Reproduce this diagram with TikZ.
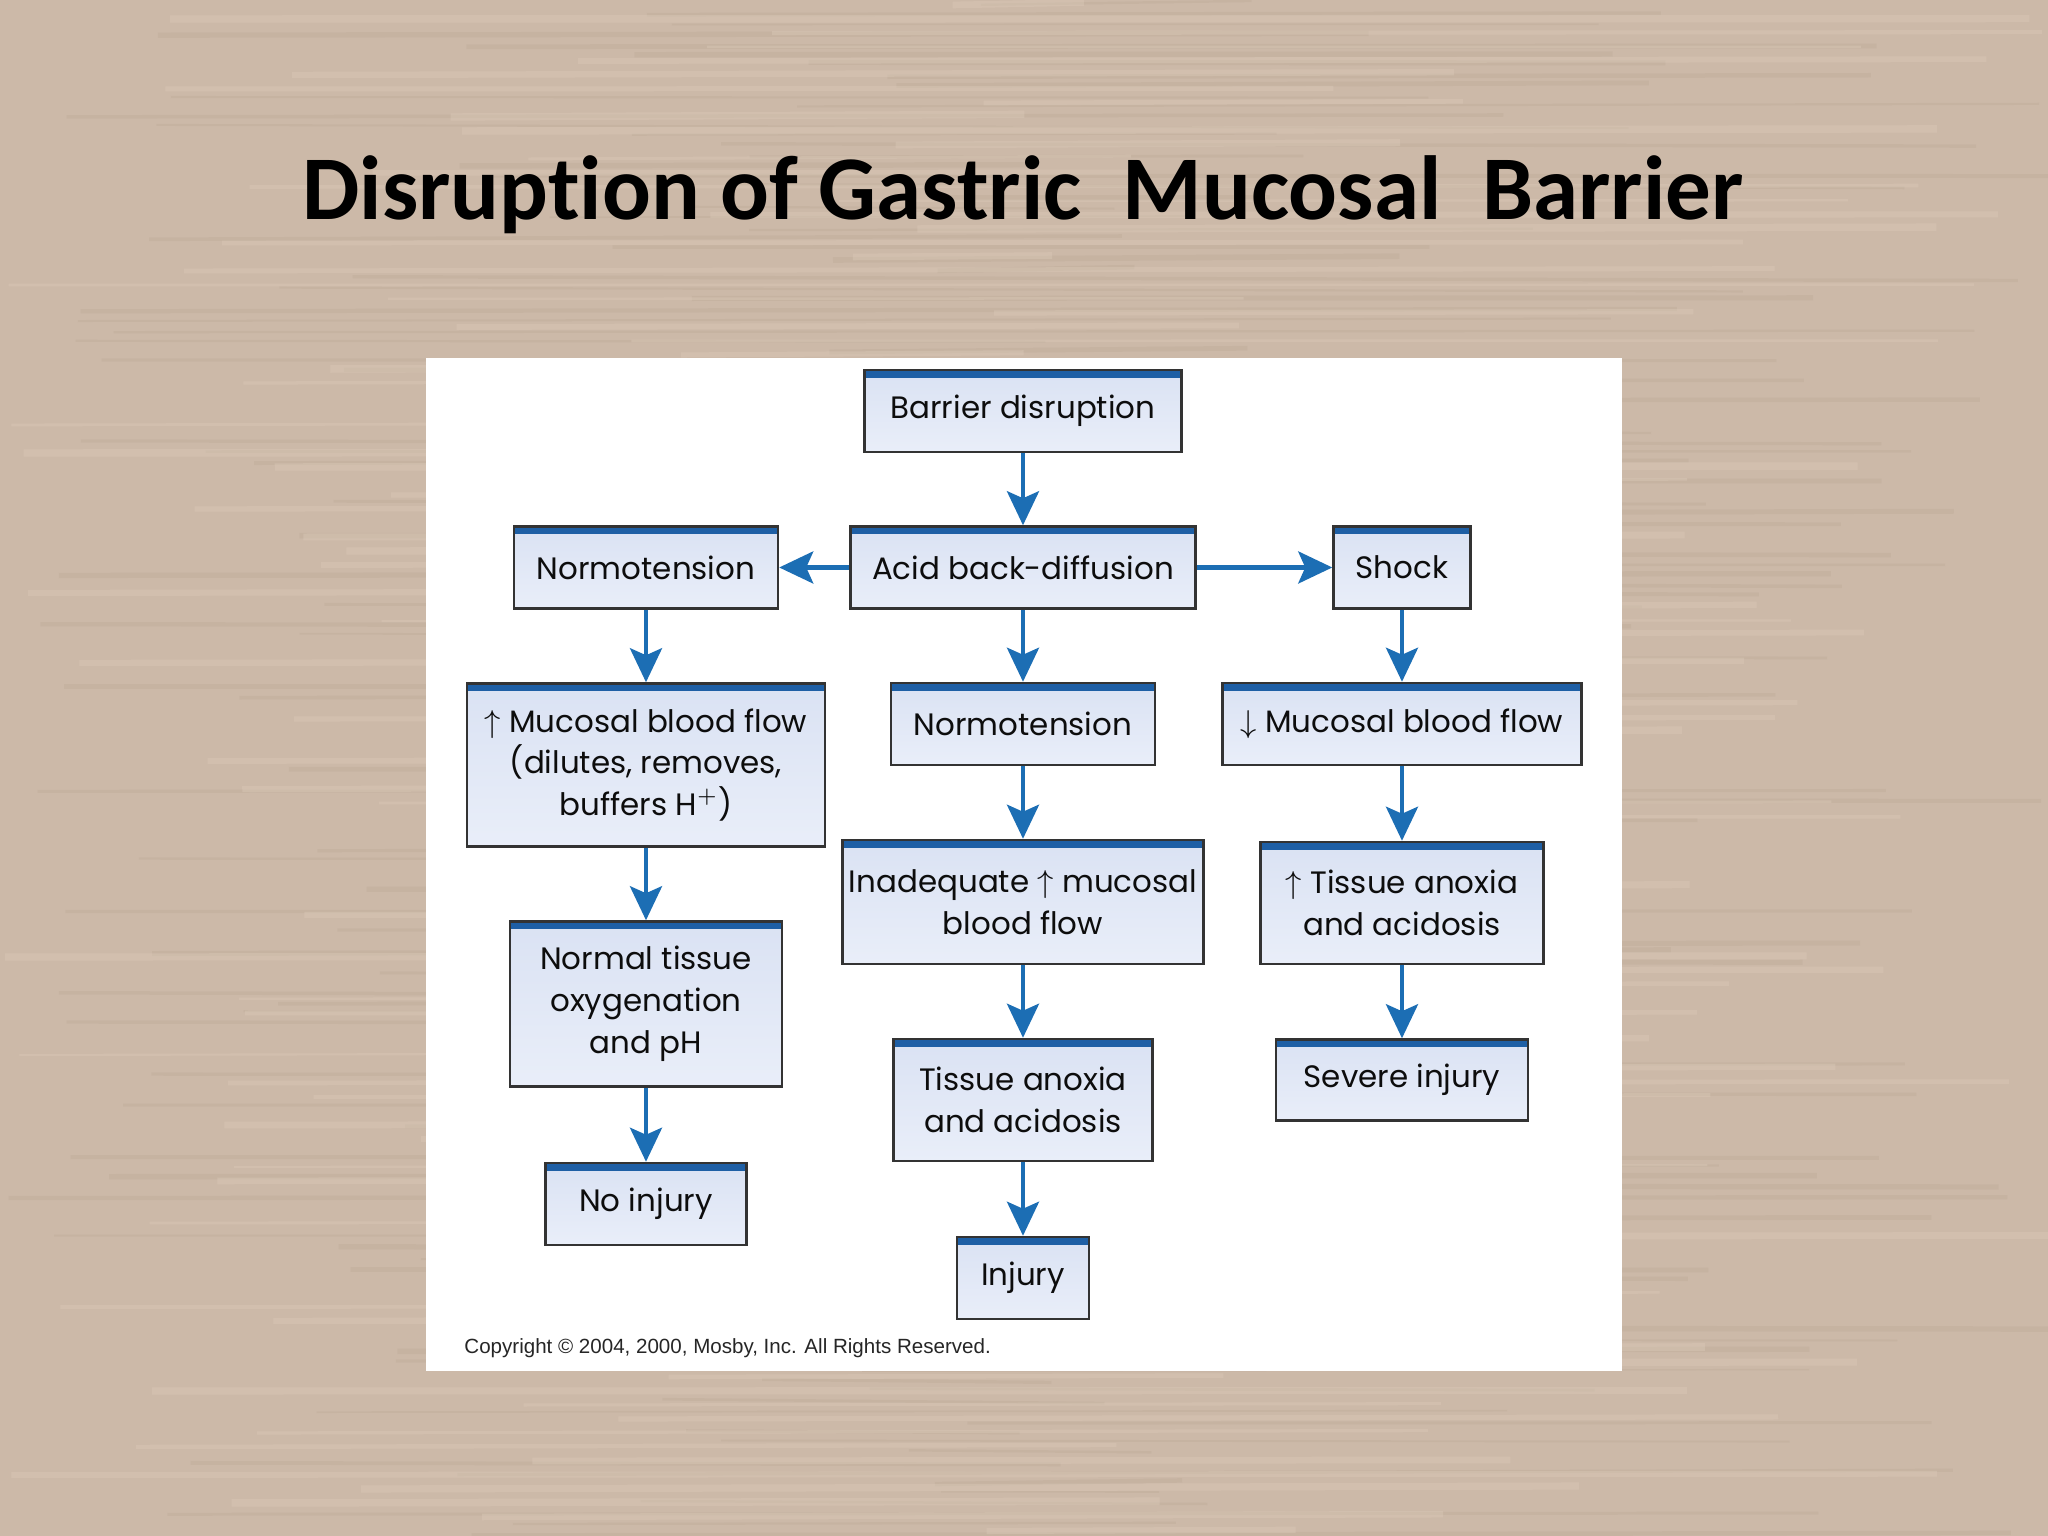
\documentclass[tikz,border=0pt]{standalone}
\usepackage{fontspec}
\usepackage{amsmath}
\usepackage{amssymb}
\usetikzlibrary{arrows.meta}
\setmainfont{Carlito}[Ligatures=NoCommon]
\newfontfamily\flowfont{Poppins}
\newfontfamily\notefont{Liberation Sans}
\definecolor{woodbg}{RGB}{204,185,168}
\definecolor{wooddark}{RGB}{178,158,140}
\definecolor{woodlight}{RGB}{222,205,188}
\definecolor{barblue}{RGB}{30,95,165}
\definecolor{arrowblue}{RGB}{28,110,180}
\definecolor{boxtop}{RGB}{218,226,243}
\definecolor{boxbottom}{RGB}{233,238,249}

\begin{document}
\begin{tikzpicture}[
	flowbox/.style={draw=black!80, line width=0.7pt, top color=boxtop, bottom color=boxbottom,
		align=center, inner sep=0pt, font=\flowfont\fontsize{8.8}{11.9}\selectfont, text=black!95,
		path picture={\fill[barblue] (path picture bounding box.north west) rectangle ([yshift=-0.08cm]path picture bounding box.north east);}},
	flowarrow/.style={draw=arrowblue, line width=1.2pt, -{Stealth[width=0.32cm,length=0.34cm,inset=0.07cm]}}
	]
	% background and white panel
	\useasboundingbox (0,0) rectangle (20.48,15.36);
	\fill[woodbg] (0,0) rectangle (20.48,15.36);
	\pgfmathsetseed{7}
	\foreach \i in {0,...,150}
		\draw[wooddark, opacity=0.22, line width={0.4pt+rnd*1.2pt}] ({rnd*10},{\i*0.102+rnd*0.05}) -- ({10+rnd*10.5},{\i*0.102+rnd*0.05});
	\foreach \i in {0,...,110}
		\draw[woodlight, opacity=0.35, line width={0.6pt+rnd*1.6pt}] ({rnd*10},{\i*0.14+0.05}) -- ({10+rnd*10.5},{\i*0.14+0.05+rnd*0.03});
	\fill[white] (4.26,1.65) rectangle (16.22,11.78);
	% title
	\node[anchor=base, font=\bfseries\fontsize{25.9}{30}\selectfont] (title) at (10.23,13.16) {Disruption of Gastric\ \ Mucosal\ \ Barrier};
	% middle column
	\node[flowbox, minimum width=3.17cm, minimum height=0.82cm] (barrier) at (10.23,11.25) {Barrier disruption};
	\node[flowbox, minimum width=3.45cm, minimum height=0.82cm] (acid) at (10.23,9.685) {Acid back-diffusion};
	\node[flowbox, minimum width=2.64cm, minimum height=0.82cm] (normmid) at (10.23,8.12) {Normotension};
	\node[flowbox, minimum width=3.61cm, minimum height=1.24cm] (inadequate) at (10.23,6.34) {Inadequate $\uparrow$ mucosal\\blood flow};
	\node[flowbox, minimum width=2.59cm, minimum height=1.22cm] (anoxmid) at (10.23,4.36) {Tissue anoxia\\and acidosis};
	\node[flowbox, minimum width=1.32cm, minimum height=0.82cm] (injury) at (10.23,2.58) {Injury};
	% left column
	\node[flowbox, minimum width=2.64cm, minimum height=0.82cm] (normleft) at (6.46,9.685) {Normotension};
	\node[flowbox, minimum width=3.58cm, minimum height=1.63cm] (upflow) at (6.46,7.71) {$\uparrow$ Mucosal blood flow\\(dilutes, removes,\\buffers H$^+$)};
	\node[flowbox, minimum width=2.72cm, minimum height=1.65cm] (normaltissue) at (6.46,5.32) {Normal tissue\\oxygenation\\and pH};
	\node[flowbox, minimum width=2.01cm, minimum height=0.82cm] (noinjury) at (6.46,3.32) {No injury};
	% right column
	\node[flowbox, minimum width=1.37cm, minimum height=0.82cm] (shock) at (14.02,9.685) {Shock};
	\node[flowbox, minimum width=3.59cm, minimum height=0.82cm] (downflow) at (14.02,8.12) {$\downarrow$ Mucosal blood flow};
	\node[flowbox, minimum width=2.83cm, minimum height=1.22cm] (anoxright) at (14.02,6.33) {$\uparrow$ Tissue anoxia\\and acidosis};
	\node[flowbox, minimum width=2.52cm, minimum height=0.81cm] (severe) at (14.02,4.56) {Severe injury};
	% arrows
	\draw[flowarrow] (barrier) -- (acid);
	\draw[flowarrow] (acid) -- (normleft);
	\draw[flowarrow] (acid) -- (shock);
	\draw[flowarrow] (acid) -- (normmid);
	\draw[flowarrow] (normmid) -- (inadequate);
	\draw[flowarrow] (inadequate) -- (anoxmid);
	\draw[flowarrow] (anoxmid) -- (injury);
	\draw[flowarrow] (normleft) -- (upflow);
	\draw[flowarrow] (upflow) -- (normaltissue);
	\draw[flowarrow] (normaltissue) -- (noinjury);
	\draw[flowarrow] (shock) -- (downflow);
	\draw[flowarrow] (downflow) -- (anoxright);
	\draw[flowarrow] (anoxright) -- (severe);
	% copyright line
	\node[anchor=base west, font=\notefont\fontsize{5.85}{7}\selectfont, text=black!85] (copyright) at (4.52,1.82) {Copyright \textcopyright\ 2004, 2000, Mosby, Inc. All Rights Reserved.};
\end{tikzpicture}
\end{document}
